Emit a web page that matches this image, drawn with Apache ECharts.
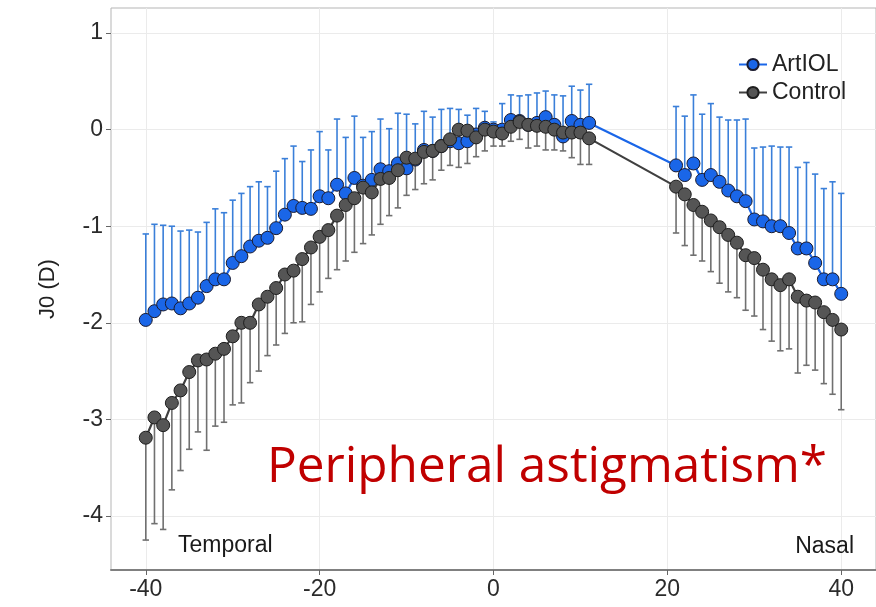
<!DOCTYPE html>
<html>
<head>
<meta charset="utf-8">
<script src="https://cdn.jsdelivr.net/npm/echarts@6/dist/echarts.min.js"></script>
<style>
html,body{margin:0;padding:0;background:#fff;}
#chart{width:876px;height:607px;}
</style>
</head>
<body>
<div id="chart"></div>
<script>
// Eccentricity angles (degrees)
const angles = [-40,-39,-38,-37,-36,-35,-34,-33,-32,-31,-30,-29,-28,-27,-26,-25,-24,-23,-22,-21,-20,-19,-18,-17,-16,-15,-14,-13,-12,-11,-10,-9,-8,-7,-6,-5,-4,-3,-2,-1,0,1,2,3,4,5,6,7,8,9,10,11,
  21,22,23,24,25,26,27,28,29,30,31,32,33,34,35,36,37,38,39,40];

// ArtIOL mean J0 and upper error-bar end
const artMean = [-1.97,-1.88,-1.81,-1.80,-1.85,-1.80,-1.74,-1.62,-1.55,-1.55,-1.38,-1.31,-1.21,-1.15,-1.12,-1.02,-0.88,-0.79,-0.81,-0.82,-0.69,-0.71,-0.57,-0.66,-0.50,-0.58,-0.52,-0.41,-0.43,-0.35,-0.40,-0.31,-0.21,-0.22,-0.17,-0.12,-0.14,-0.12,-0.05,0.02,0.00,0.00,0.10,0.09,0.05,0.07,0.13,0.05,-0.07,0.09,0.05,0.07,
  -0.37,-0.47,-0.35,-0.52,-0.47,-0.54,-0.63,-0.69,-0.74,-0.93,-0.95,-1.00,-1.00,-1.07,-1.23,-1.23,-1.38,-1.55,-1.55,-1.70];
const artUpper = [-1.08,-0.98,-0.99,-1.00,-1.05,-1.04,-1.06,-0.96,-0.82,-0.86,-0.73,-0.66,-0.59,-0.54,-0.59,-0.43,-0.30,-0.17,-0.33,-0.21,-0.02,-0.21,0.11,-0.08,0.14,-0.08,-0.02,0.11,0.01,0.17,0.16,0.06,0.19,0.13,0.21,0.22,0.21,0.15,0.22,0.19,0.08,0.27,0.36,0.35,0.36,0.38,0.40,0.36,0.35,0.45,0.41,0.47,
  0.24,0.14,0.36,0.16,0.27,0.13,0.10,0.10,0.11,-0.19,-0.18,-0.17,-0.18,-0.18,-0.39,-0.34,-0.46,-0.61,-0.54,-0.66];

// Control mean J0 and lower error-bar end
const ctlMean = [-3.19,-2.98,-3.06,-2.83,-2.70,-2.51,-2.39,-2.38,-2.32,-2.27,-2.14,-2.00,-2.00,-1.81,-1.73,-1.64,-1.50,-1.46,-1.34,-1.22,-1.11,-1.04,-0.89,-0.78,-0.71,-0.60,-0.65,-0.51,-0.50,-0.42,-0.29,-0.30,-0.23,-0.22,-0.17,-0.10,0.00,-0.01,-0.08,0.00,-0.02,-0.04,0.03,0.08,0.05,0.04,0.03,0.00,-0.03,-0.03,-0.03,-0.09,
  -0.59,-0.67,-0.78,-0.85,-0.94,-1.01,-1.09,-1.17,-1.30,-1.33,-1.45,-1.55,-1.61,-1.55,-1.73,-1.77,-1.79,-1.89,-1.97,-2.07];
const ctlLower = [-4.25,-4.08,-4.14,-3.73,-3.53,-3.31,-3.13,-3.32,-3.07,-3.03,-2.85,-2.83,-2.62,-2.50,-2.34,-2.23,-2.11,-2.00,-1.99,-1.81,-1.68,-1.54,-1.45,-1.36,-1.27,-1.18,-1.09,-0.98,-0.89,-0.81,-0.68,-0.62,-0.56,-0.52,-0.42,-0.37,-0.39,-0.35,-0.28,-0.22,-0.17,-0.17,-0.12,-0.10,-0.19,-0.17,-0.21,-0.21,-0.22,-0.29,-0.36,-0.36,
  -1.07,-1.20,-1.30,-1.36,-1.47,-1.59,-1.68,-1.74,-1.87,-1.93,-2.07,-2.19,-2.29,-2.27,-2.52,-2.44,-2.49,-2.63,-2.74,-2.90];

// Axis ticks
const xTicks = [-40,-20,0,20,40];
const yTicks = [-4,-3,-2,-1,0,1];

const seriesNames = ['ArtIOL','Control'];
const blue = '#1a66e8', blueBar = '#3a7fd9';
const gray = '#555555', grayBar = '#707070', grayLine = '#404040';

const artData = angles.map((a,i)=>[a, artMean[i]]);
const ctlData = angles.map((a,i)=>[a, ctlMean[i]]);
const artErr = angles.map((a,i)=>[a, artMean[i], artUpper[i]]);
const ctlErr = angles.map((a,i)=>[a, ctlMean[i], ctlLower[i]]);

function errRenderer(color){
  return function(params, api){
    const x = api.value(0), y = api.value(1), e = api.value(2);
    const p0 = api.coord([x, y]);
    const p1 = api.coord([x, e]);
    const hw = 3.2;
    return {
      type:'group',
      children:[
        {type:'line', shape:{x1:p0[0],y1:p0[1],x2:p1[0],y2:p1[1]}, style:{stroke:color,lineWidth:1.6}},
        {type:'line', shape:{x1:p1[0]-hw,y1:p1[1],x2:p1[0]+hw,y2:p1[1]}, style:{stroke:color,lineWidth:1.6}}
      ]
    };
  };
}

const chart = echarts.init(document.getElementById('chart'));
const axisFont = {fontFamily:'Liberation Sans', fontSize:23, color:'#2b2b2b'};
chart.setOption({
  animation:false,
  backgroundColor:'#ffffff',
  grid:{left:111, right:0, top:8, bottom:37, show:true, borderColor:'#b5b5b5', borderWidth:1},
  legend:{
    data:seriesNames,
    orient:'vertical',
    left:733, top:48,
    itemWidth:28, itemHeight:14, itemGap:5,
    textStyle:{fontFamily:'Liberation Sans', fontSize:23, color:'#222'}
  },
  xAxis:{
    type:'value', min:-44, max:44,
    axisLine:{show:true, onZero:false, lineStyle:{color:'#808080', width:2}},
    axisTick:{show:true, length:5, customValues:xTicks, lineStyle:{color:'#666'}},
    axisLabel:{customValues:xTicks, margin:8, ...axisFont},
    splitLine:{show:true, lineStyle:{color:'#ebebeb', width:1}}
  },
  yAxis:{
    type:'value', min:-4.56, max:1.26,
    name:'J0 (D)', nameLocation:'middle', nameGap:52,
    nameTextStyle:{fontFamily:'Liberation Sans', fontSize:22, color:'#222'},
    axisLine:{show:false, onZero:false},
    axisTick:{show:true, length:5, customValues:yTicks, lineStyle:{color:'#666'}},
    axisLabel:{customValues:yTicks, margin:8, ...axisFont},
    splitLine:{show:true, lineStyle:{color:'#ebebeb', width:1}}
  },
  series:[
    {name:'ArtIOL err', type:'custom', renderItem:errRenderer(blueBar), data:artErr, encode:{x:0, y:[1,2]}, z:2, silent:true},
    {name:'Control err', type:'custom', renderItem:errRenderer(grayBar), data:ctlErr, encode:{x:0, y:[1,2]}, z:2, silent:true},
    {name:'ArtIOL', type:'line', data:artData, symbol:'circle', symbolSize:13, showSymbol:true, z:3,
      itemStyle:{color:blue, borderColor:'#1b1b2e', borderWidth:1},
      lineStyle:{color:blue, width:2.2}},
    {name:'Control', type:'line', data:ctlData, symbol:'circle', symbolSize:13, showSymbol:true, z:4,
      itemStyle:{color:gray, borderColor:'#1e1e1e', borderWidth:1},
      lineStyle:{color:grayLine, width:2.2}}
  ],
  graphic:[
    {type:'text', z:100, left:178, top:534, style:{text:'Temporal', fontFamily:'Liberation Sans', fontSize:23, fill:'#1a1a1a'}},
    {type:'text', z:100, right:22, top:535, style:{text:'Nasal', fontFamily:'Liberation Sans', fontSize:23, fill:'#1a1a1a'}},
    {type:'text', z:100, left:267, top:443, style:{text:'Peripheral astigmatism*', fontFamily:'Open Sans', fontSize:49.5, fill:'#c00000'}}
  ]
});
</script>
</body>
</html>
